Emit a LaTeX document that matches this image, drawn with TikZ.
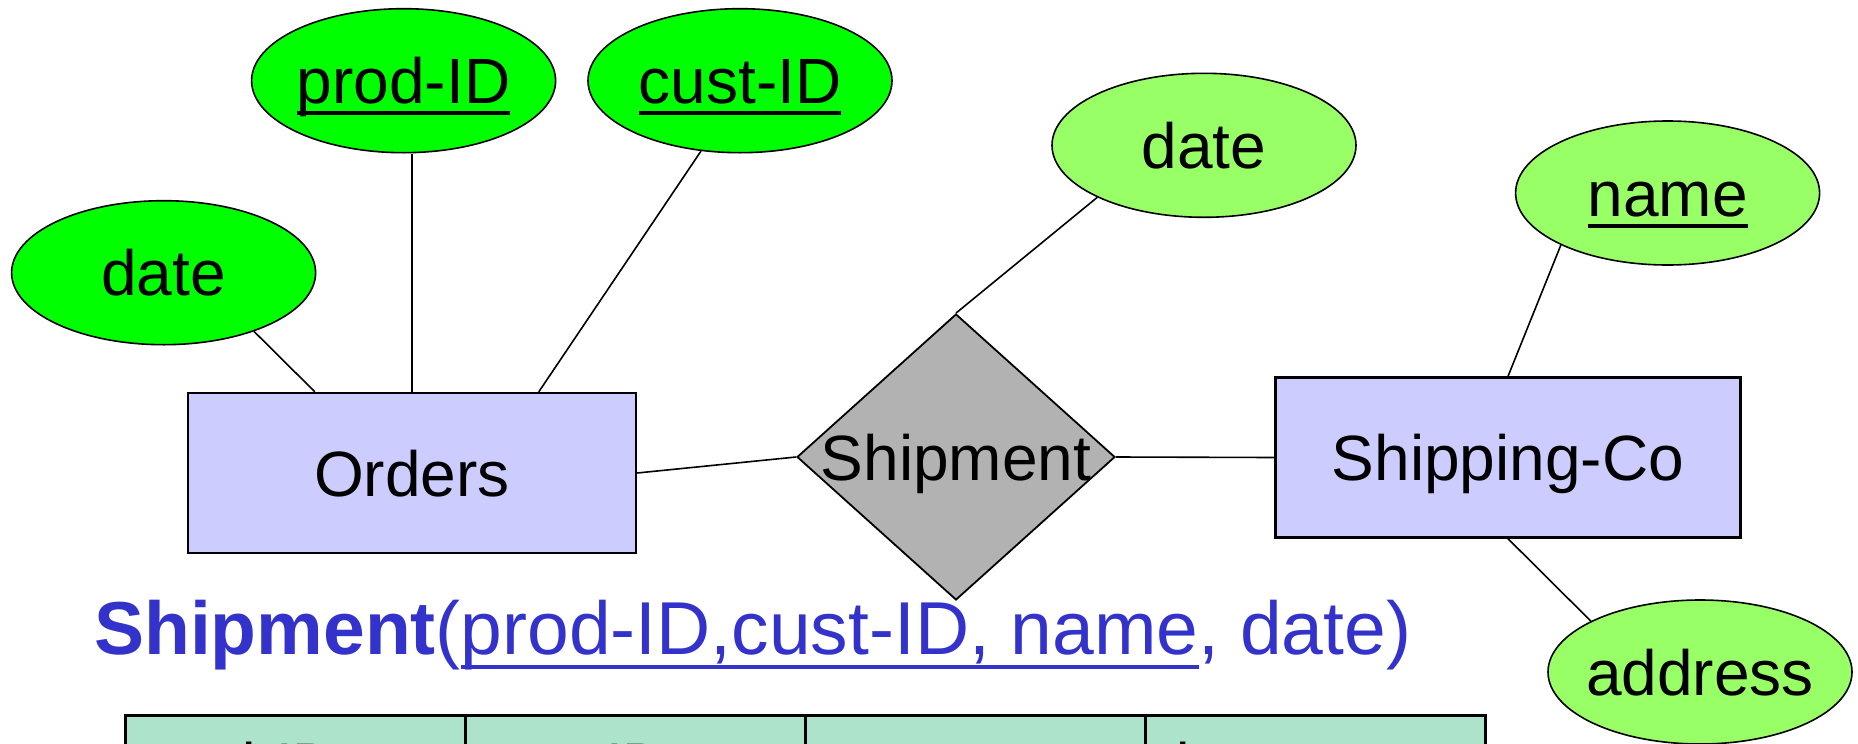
\documentclass[tikz,border=0pt]{standalone}
\usepackage{fontspec}
\setmainfont{Liberation Sans}
\usetikzlibrary{shapes.geometric,calc}
\definecolor{attrA}{HTML}{00FF00}
\definecolor{attrB}{HTML}{99FF66}
\definecolor{entfill}{HTML}{CCCCFF}
\definecolor{relfill}{HTML}{B2B2B2}
\definecolor{tblfill}{HTML}{ACE3CA}
\definecolor{blu}{HTML}{3333CC}
\newcommand\ulbox[3]{\setbox0\hbox{#3}\rlap{\rule[-#1]{\wd0}{#2}}\box0}
\tikzset{
  attr/.style={ellipse, draw=black, line width=1.6pt, minimum width=304pt, minimum height=144pt, inner sep=0pt},
  lbl/.style={font=\fontsize{64}{76}\selectfont, text height=46pt, text depth=0pt, inner sep=0pt},
  entity/.style={rectangle, draw=black, line width=2.4pt, fill=entfill, inner sep=0pt, minimum height=160pt, lbl},
  relship/.style={diamond, draw=black, line width=1.8pt, fill=relfill, inner sep=0pt, minimum width=318pt, minimum height=286pt},
  conn/.style={line width=1.6pt},
  cell/.style={rectangle, draw=black, line width=3pt, fill=tblfill, minimum width=340pt, minimum height=120pt, anchor=north west, inner sep=0pt},
  celltxt/.style={anchor=base west, inner sep=0pt, font=\fontsize{60}{72}\selectfont}
}
\begin{document}
\begin{tikzpicture}[x=1pt,y=-1pt]
\useasboundingbox (0,0) rectangle (1858,744);
\clip (0,0) rectangle (1858,744);
% table (cut off at the bottom)
\node[cell] (c1) at (124,714) {};
\node[cell] (c2) at (464,714) {};
\node[cell] (c3) at (804,714) {};
\node[cell] (c4) at (1144,714) {};
\node[celltxt] at ($(c1.north west)+(12,71)$) {prod-ID};
\node[celltxt] at ($(c2.north west)+(12,71)$) {cust-ID};
\node[celltxt] at ($(c3.north west)+(12,71)$) {name};
\node[celltxt] at ($(c4.north west)+(12,71)$) {date};
% attributes
\node[attr, fill=attrA] (prodid) at (403.6,80.7) {};
\node[lbl] at (prodid) {\ulbox{11.4pt}{4.2pt}{prod-ID}};
\node[attr, fill=attrA] (custid) at (740,80.7) {};
\node[lbl] at (custid) {\ulbox{11.4pt}{4.2pt}{cust-ID}};
\node[attr, fill=attrA] (date1) at (163.6,272.7) {};
\node[lbl] at (date1) {date};
\node[attr, fill=attrB] (date2) at (1204,145.3) {};
\node[lbl] at (date2) {date};
\node[attr, fill=attrB] (name) at (1667.6,193) {};
\node[lbl] at (name) {\ulbox{11.6pt}{4pt}{name}};
\node[attr, fill=attrB] (address) at (1700,672) {};
\node[lbl] at (address) {address};
% entities and relationship
\node[entity, minimum width=448pt] (orders) at (412,473) {Orders};
\node[entity, minimum width=465pt] (shipco) at (1508,457.5) {Shipping-Co};
\node[relship] (ship) at (956,457) {};
\node[lbl] at (ship) {Shipment};
% connectors
\coordinate (o1) at ($(orders.north west)+(128,0)$);
\coordinate (o3) at ($(orders.north west)+(352,0)$);
\draw[conn] (date1.327) -- (o1);
\draw[conn] (orders.north) -- (orders.north |- prodid.south);
\draw[conn] (custid.241) -- (o3);
\draw[conn] (orders.east) -- (ship.west);
\draw[conn] (ship.north) -- (date2.206);
\draw[conn] (ship.east) -- (shipco.west);
\draw[conn] (shipco.north) -- (name.206);
\draw[conn] (shipco.south) -- (address.155);
% relation schema
\node[anchor=base west, inner sep=0pt, text=blu, font=\fontsize{75}{90}\selectfont] (schema) at (94,654)
  {\textbf{Shipment}(\ulbox{14.5pt}{4pt}{prod-ID,cust-ID, name}, date)};
\end{tikzpicture}
\end{document}
